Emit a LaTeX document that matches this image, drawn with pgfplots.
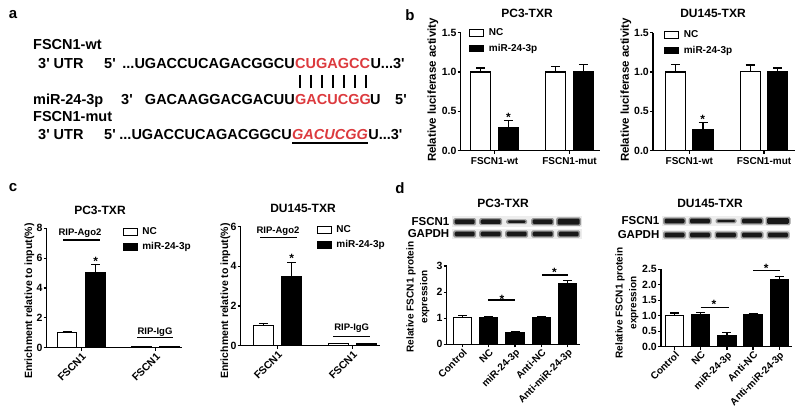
\documentclass[border=0pt]{standalone}
\usepackage{fontspec}
\setmainfont{Liberation Sans}
\usepackage{pgfplots}
\pgfplotsset{compat=1.18}
\newcommand\F[1]{\bfseries\fontsize{#1}{#1}\selectfont}
\newcommand\q{\textquotesingle}
\definecolor{seqred}{RGB}{220,58,62}
\pgfplotsset{
  gp/.style={
    scale only axis, anchor=south west,
    axis x line*=bottom, axis y line*=left,
    axis line style={line width=1.3pt,-},
    every tick/.style={black, line width=1.2pt},
    tick align=outside, major tick length=3pt,
    ymin=0, clip=false, ybar,
    /pgf/number format/assume math mode=true,
    yticklabel={\F{10.5}\pgfmathprintnumber[assume math mode=true]{\tick}},
    yticklabel style={inner sep=1pt, font=\F{10.5}},
    xticklabel style={font=\F{10}},
    legend cell align=left,
    legend style={draw=none, fill=none, font=\F{10}, anchor=north west, inner sep=0pt, row sep=4pt, nodes={inner sep=1.5pt},
      /tikz/every odd column/.append style={column sep=3pt}},
  },
  eb/.style={error bars/y dir=plus, error bars/y explicit,
    error bars/error bar style={line width=1.2pt, black, solid},
    error bars/error mark options={rotate=90, mark size=4.5pt, line width=1.2pt, black}},
  lg/.style={legend image code/.code={\draw[##1,/tikz/.cd,line width=1.2pt] (0pt,-3.3pt) rectangle (14pt,3.3pt);}},
  wbar/.style={draw=black, fill=white, line width=1.3pt, eb, lg},
  kbar/.style={draw=black, fill=black, line width=1.3pt, eb, lg},
  onedec/.style={yticklabel={\F{10.5}\pgfmathprintnumber[assume math mode=true, fixed, fixed zerofill, precision=1]{\tick}}},
}
\begin{document}
\begin{tikzpicture}[x=1pt,y=1pt]
\path[use as bounding box] (0,0) rectangle (800,410);

% ---------------- panel letters
\node[font=\F{15}] at (13,395) {a};
\node[font=\F{15}] at (410,395) {b};
\node[font=\F{15}] at (13,222) {c};
\node[font=\F{15}] at (400,222) {d};

% ---------------- panel a
\begin{scope}[every node/.style={font=\F{14.5}, inner sep=0pt}]
\node[anchor=base west] at (33,360) {FSCN1-wt};
\node[anchor=base west] at (38,341.5) {3\q{} UTR};
\node[anchor=base west] at (104,341.5) {5\q};
\node[anchor=base east] at (295,341.5) {...UGACCUCAGACGGCU};
\node[anchor=base west, text=seqred] (r1) at (295,341.5) {CUGAGCC};
\node[anchor=base west] at (r1.base east) {U...3\q};
\node[anchor=base west] at (33,305.7) {miR-24-3p};
\node[anchor=base west] at (121,305.7) {3\q};
\node[anchor=base east] at (295,305.7) {GACAAGGACGACUU};
\node[anchor=base west, text=seqred] (r2) at (295,305.7) {GACUCGG};
\node[anchor=base west] at (370,305.7) {U};
\node[anchor=base west] at (395,305.7) {5\q};
\node[anchor=base west] at (33,288.3) {FSCN1-mut};
\node[anchor=base west] at (38,270) {3\q{} UTR};
\node[anchor=base west] at (104,270) {5\q};
\node[anchor=base east] at (292,270) {...UGACCUCAGACGGCU};
\node[anchor=base west, text=seqred, font=\F{14.5}\itshape] (r3) at (292,270) {GACUCGG};
\node[anchor=base west] at (r3.base east) {U...3\q};
\end{scope}
\foreach \i in {0,...,6} \draw[line width=1.4pt] ({300+11*\i},335) -- ({300+11*\i},322);
\draw[line width=2pt] (292,267.3) -- (368,267.3);

% ---------------- panel b left
\begin{axis}[gp, at={(460.7pt,259.3pt)}, width=139.3pt, height=118pt,
  xmin=0.549, xmax=2.407, ymax=1.5, ytick={0,0.5,1,1.5}, onedec,
  bar width=20pt, ybar=7.8pt, xtick={1,2}, xticklabels={FSCN1-wt,FSCN1-mut},
  legend style={at={(0.06,1.048)}}]
\addplot[wbar] coordinates {(1,1.0) +- (0,0.05) (2,1.0) +- (0,0.07)};
\addplot[kbar] coordinates {(1,0.29) +- (0,0.09) (2,1.0) +- (0,0.10)};
\legend{NC,miR-24-3p}
\node[font=\F{12}, anchor=base, inner sep=0pt] at (axis cs:1.185,0.365) {*};
\end{axis}
\node[rotate=90, font=\F{11.5}] at (433,320) {Relative luciferase activity};
\node[font=\F{12}] at (527,397) {PC3-TXR};

% ---------------- panel b right
\begin{axis}[gp, at={(653pt,259.3pt)}, width=142pt, height=118pt,
  xmin=0.515, xmax=2.415, ymax=1.5, ytick={0,0.5,1,1.5}, onedec,
  bar width=20pt, ybar=7.5pt, xtick={1,2}, xticklabels={FSCN1-wt,FSCN1-mut},
  legend style={at={(0.077,1.031)}}]
\addplot[wbar] coordinates {(1,1.0) +- (0,0.10) (2,1.01) +- (0,0.08)};
\addplot[kbar] coordinates {(1,0.27) +- (0,0.09) (2,1.0) +- (0,0.05)};
\legend{NC,miR-24-3p}
\node[font=\F{12}, anchor=base, inner sep=0pt] at (axis cs:1.18,0.343) {*};
\end{axis}
\node[rotate=90, font=\F{11.5}] at (626,320) {Relative luciferase activity};
\node[font=\F{12}] at (713,397) {DU145-TXR};

% ---------------- panel c left
\begin{axis}[gp, at={(46.7pt,62.3pt)}, width=135pt, height=119.4pt,
  xmin=0.534, xmax=2.353, ymax=8, ytick={0,2,4,6,8},
  bar width=19.5pt, ybar=9pt, xtick={1,2}, xticklabels={FSCN1,FSCN1},
  xticklabel style={rotate=45, anchor=north east, font=\F{10.5}, inner sep=1pt},
  legend style={at={(0.561,1.019)}, row sep=3.5pt}]
\addplot[wbar] coordinates {(1,1.0) +- (0,0.08) (2,0.1) +- (0,0.0)};
\addplot[kbar] coordinates {(1,5.0) +- (0,0.6) (2,0.1) +- (0,0.0)};
\legend{NC,miR-24-3p}
\node[font=\F{12}, anchor=base, inner sep=0pt] at (axis cs:1.193,5.52) {*};
\end{axis}
\node[rotate=90, font=\F{10.5}] at (29.5,109) {Enrichment relative to input(\%)};
\node[font=\F{12}] at (100,200) {PC3-TXR};
\node[font=\F{9.5}] at (80,177) {RIP-Ago2};
\draw[line width=1.3pt] (63,170) -- (100,170);
\node[font=\F{9.5}] at (155,78) {RIP-IgG};
\draw[line width=1.3pt] (137,72.3) -- (173,72.3);

% ---------------- panel c right
\begin{axis}[gp, at={(240.7pt,64.3pt)}, width=139.3pt, height=119pt,
  xmin=0.509, xmax=2.367, ymax=6, ytick={0,2,4,6},
  bar width=20pt, ybar=8.5pt, xtick={1,2}, xticklabels={FSCN1,FSCN1},
  xticklabel style={rotate=45, anchor=north east, font=\F{10.5}, inner sep=1pt},
  legend style={at={(0.544,1.023)}, row sep=3.5pt}]
\addplot[wbar] coordinates {(1,1.03) +- (0,0.07) (2,0.1) +- (0,0.0)};
\addplot[kbar] coordinates {(1,3.5) +- (0,0.7) (2,0.1) +- (0,0.0)};
\legend{NC,miR-24-3p}
\node[font=\F{12}, anchor=base, inner sep=0pt] at (axis cs:1.19,4.22) {*};
\end{axis}
\node[rotate=90, font=\F{10.5}] at (225.5,109) {Enrichment relative to input(\%)};
\node[font=\F{12}] at (303,202) {DU145-TXR};
\node[font=\F{9.5}] at (278,179) {RIP-Ago2};
\draw[line width=1.3pt] (260,172.3) -- (297,172.3);
\node[font=\F{9.5}] at (351.7,82) {RIP-IgG};
\draw[line width=1.3pt] (333,73.3) -- (370,73.3);

% ---------------- panel d left: blot
\fill[black!7] (452,183) rectangle (582,193.5);
\fill[black!7] (452,171) rectangle (582,181);
\foreach \cx/\h/\w in {464.7/2.4/10, 490.7/2.3/10, 516.7/1.2/9, 542.7/2.4/10, 568.7/3/11}{
  \fill[black!40, rounded corners=1.5pt] (\cx-\w-1.5,188.3-\h-1.2) rectangle (\cx+\w+1.5,188.3+\h+1.2);
  \fill[black!90, rounded corners=1.2pt] (\cx-\w,188.3-\h) rectangle (\cx+\w,188.3+\h);
}
\foreach \cx in {464.7,490.7,516.7,542.7,568.7}{
  \fill[black!40, rounded corners=1.5pt] (\cx-11.5,176-3.6) rectangle (\cx+11.5,176+3.6);
  \fill[black!90, rounded corners=1.2pt] (\cx-10,176-2.4) rectangle (\cx+10,176+2.4);
}
\node[anchor=east, font=\F{11.5}, inner sep=0pt] at (449.5,188.3) {FSCN1};
\node[anchor=east, font=\F{11.5}, inner sep=0pt] at (449.5,176) {GAPDH};
\node[font=\F{12}] at (503,207) {PC3-TXR};

\begin{axis}[gp, at={(446.7pt,65.7pt)}, width=133.3pt, height=78.3pt,
  xmin=0.398, xmax=5.476, ymax=3, ytick={0,1,2,3},
  bar width=18pt, xtick={1,2,3,4,5},
  xticklabels={Control,NC,miR-24-3p,Anti-NC,Anti-miR-24-3p},
  xticklabel style={rotate=45, anchor=north east, font=\F{10}, inner sep=0.5pt}]
\addplot[wbar, bar shift=0pt] coordinates {(1,1.02) +- (0,0.08)};
\addplot[kbar, bar shift=0pt] coordinates {(2,1.04) +- (0,0.04) (3,0.43) +- (0,0.07) (4,1.02) +- (0,0.03) (5,2.33) +- (0,0.10)};
\draw[line width=1.3pt] (axis cs:1.97,1.70) -- (axis cs:3.0,1.70);
\draw[line width=1.3pt] (axis cs:4.02,2.655) -- (axis cs:5.03,2.655);
\node[font=\F{12}, anchor=base, inner sep=0pt] at (axis cs:2.5,1.58) {*};
\node[font=\F{12}, anchor=base, inner sep=0pt] at (axis cs:4.5,2.58) {*};
\end{axis}
\node[rotate=90, font=\bfseries\fontsize{10}{13.7}\selectfont, align=center] at (418,113) {Relative FSCN1 protein\\expression};

% ---------------- panel d right: blot
\fill[black!7] (662,184) rectangle (790,194);
\fill[black!7] (662,170) rectangle (790,180);
\foreach \cx/\h/\w in {674.5/2.4/10, 700/2.3/10, 726/1.2/9, 752/2.4/10, 778/2.9/11}{
  \fill[black!40, rounded corners=1.5pt] (\cx-\w-1.5,189-\h-1.2) rectangle (\cx+\w+1.5,189+\h+1.2);
  \fill[black!90, rounded corners=1.2pt] (\cx-\w,189-\h) rectangle (\cx+\w,189+\h);
}
\foreach \cx in {674.5,700,726,752,778}{
  \fill[black!40, rounded corners=1.5pt] (\cx-11.5,175-3.6) rectangle (\cx+11.5,175+3.6);
  \fill[black!90, rounded corners=1.2pt] (\cx-10,175-2.4) rectangle (\cx+10,175+2.4);
}
\node[anchor=east, font=\F{11.5}, inner sep=0pt] at (659.5,189) {FSCN1};
\node[anchor=east, font=\F{11.5}, inner sep=0pt] at (659.5,175) {GAPDH};
\node[font=\F{12}] at (710,207) {DU145-TXR};

\begin{axis}[gp, at={(661pt,63.3pt)}, width=130.7pt, height=77.4pt,
  xmin=0.475, xmax=5.479, ymax=2.5, ytick={0,0.5,1,1.5,2,2.5}, onedec,
  bar width=18pt, xtick={1,2,3,4,5},
  xticklabels={Control,NC,miR-24-3p,Anti-NC,Anti-miR-24-3p},
  xticklabel style={rotate=45, anchor=north east, font=\F{10}, inner sep=0.5pt}]
\addplot[wbar, bar shift=0pt] coordinates {(1,1.01) +- (0,0.08)};
\addplot[kbar, bar shift=0pt] coordinates {(2,1.04) +- (0,0.07) (3,0.37) +- (0,0.08) (4,1.02) +- (0,0.06) (5,2.15) +- (0,0.12)};
\draw[line width=1.3pt] (axis cs:1.99,1.27) -- (axis cs:3.07,1.27);
\draw[line width=1.3pt] (axis cs:4.0,2.455) -- (axis cs:5.03,2.455);
\node[font=\F{12}, anchor=base, inner sep=0pt] at (axis cs:2.5,1.227) {*};
\node[font=\F{12}, anchor=base, inner sep=0pt] at (axis cs:4.5,2.41) {*};
\end{axis}
\node[rotate=90, font=\bfseries\fontsize{10}{13.7}\selectfont, align=center] at (627,107) {Relative FSCN1 protein\\expression};
\end{tikzpicture}
\end{document}
